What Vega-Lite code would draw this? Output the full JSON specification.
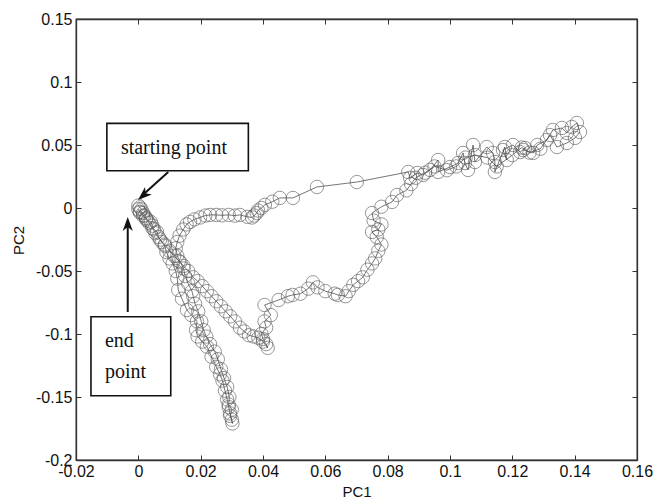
{
  "$schema": "https://vega.github.io/schema/vega-lite/v6.json",
  "width": 561,
  "height": 441,
  "autosize": "none",
  "padding": {"left": 76, "top": 19, "right": 18, "bottom": 42},
  "background": "white",
  "config": {
    "view": {"stroke": "#333", "strokeWidth": 1.3},
    "axis": {
      "grid": false, "domainColor": "#333", "domainWidth": 1.3,
      "tickColor": "#333", "tickSize": -5, "tickWidth": 1,
      "labelFont": "Liberation Sans", "labelFontSize": 16, "labelColor": "#111",
      "titleFont": "Liberation Sans", "titleFontSize": 15, "titleFontWeight": "normal", "titleColor": "#111",
      "labelFlush": false, "labelOverlap": false
    }
  },
  "datasets": {
    "path": [
      {"i":1,"pc1":0.0000,"pc2":0.0020},{"i":2,"pc1":0.0005,"pc2":0.0005},{"i":3,"pc1":0.0010,"pc2":-0.0010},{"i":4,"pc1":0.0005,"pc2":-0.0030},
      {"i":5,"pc1":0.0015,"pc2":-0.0040},{"i":6,"pc1":0.0020,"pc2":-0.0060},{"i":7,"pc1":0.0025,"pc2":-0.0080},{"i":8,"pc1":0.0030,"pc2":-0.0100},
      {"i":9,"pc1":0.0040,"pc2":-0.0110},{"i":10,"pc1":0.0045,"pc2":-0.0140},{"i":11,"pc1":0.0050,"pc2":-0.0170},{"i":12,"pc1":0.0060,"pc2":-0.0190},
      {"i":13,"pc1":0.0065,"pc2":-0.0230},{"i":14,"pc1":0.0075,"pc2":-0.0270},{"i":15,"pc1":0.0085,"pc2":-0.0300},{"i":16,"pc1":0.0090,"pc2":-0.0350},
      {"i":17,"pc1":0.0100,"pc2":-0.0400},{"i":18,"pc1":0.0110,"pc2":-0.0440},{"i":19,"pc1":0.0120,"pc2":-0.0500},{"i":20,"pc1":0.0125,"pc2":-0.0560},
      {"i":21,"pc1":0.0128,"pc2":-0.0650},{"i":22,"pc1":0.0140,"pc2":-0.0720},{"i":23,"pc1":0.0156,"pc2":-0.0810},{"i":24,"pc1":0.0170,"pc2":-0.0850},
      {"i":25,"pc1":0.0188,"pc2":-0.0900},{"i":26,"pc1":0.0185,"pc2":-0.0970},{"i":27,"pc1":0.0190,"pc2":-0.1020},{"i":28,"pc1":0.0205,"pc2":-0.1060},
      {"i":29,"pc1":0.0220,"pc2":-0.1100},{"i":30,"pc1":0.0235,"pc2":-0.1180},{"i":31,"pc1":0.0250,"pc2":-0.1260},{"i":32,"pc1":0.0262,"pc2":-0.1320},
      {"i":33,"pc1":0.0270,"pc2":-0.1370},{"i":34,"pc1":0.0278,"pc2":-0.1450},{"i":35,"pc1":0.0285,"pc2":-0.1520},{"i":36,"pc1":0.0290,"pc2":-0.1580},
      {"i":37,"pc1":0.0294,"pc2":-0.1630},{"i":38,"pc1":0.0300,"pc2":-0.1680},{"i":39,"pc1":0.0302,"pc2":-0.1710},{"i":40,"pc1":0.0295,"pc2":-0.1650},
      {"i":41,"pc1":0.0300,"pc2":-0.1600},{"i":42,"pc1":0.0290,"pc2":-0.1560},{"i":43,"pc1":0.0292,"pc2":-0.1500},{"i":44,"pc1":0.0285,"pc2":-0.1420},
      {"i":45,"pc1":0.0275,"pc2":-0.1350},{"i":46,"pc1":0.0265,"pc2":-0.1280},{"i":47,"pc1":0.0255,"pc2":-0.1200},{"i":48,"pc1":0.0245,"pc2":-0.1140},
      {"i":49,"pc1":0.0230,"pc2":-0.1080},{"i":50,"pc1":0.0218,"pc2":-0.1020},{"i":51,"pc1":0.0210,"pc2":-0.0970},{"i":52,"pc1":0.0202,"pc2":-0.0900},
      {"i":53,"pc1":0.0192,"pc2":-0.0820},{"i":54,"pc1":0.0182,"pc2":-0.0760},{"i":55,"pc1":0.0176,"pc2":-0.0700},{"i":56,"pc1":0.0172,"pc2":-0.0660},
      {"i":57,"pc1":0.0160,"pc2":-0.0600},{"i":58,"pc1":0.0150,"pc2":-0.0540},{"i":59,"pc1":0.0145,"pc2":-0.0480},{"i":60,"pc1":0.0135,"pc2":-0.0430},
      {"i":61,"pc1":0.0125,"pc2":-0.0380},{"i":62,"pc1":0.0120,"pc2":-0.0320},{"i":63,"pc1":0.0125,"pc2":-0.0270},{"i":64,"pc1":0.0132,"pc2":-0.0220},
      {"i":65,"pc1":0.0144,"pc2":-0.0170},{"i":66,"pc1":0.0155,"pc2":-0.0130},{"i":67,"pc1":0.0166,"pc2":-0.0110},{"i":68,"pc1":0.0180,"pc2":-0.0090},
      {"i":69,"pc1":0.0198,"pc2":-0.0075},{"i":70,"pc1":0.0215,"pc2":-0.0060},{"i":71,"pc1":0.0230,"pc2":-0.0055},{"i":72,"pc1":0.0250,"pc2":-0.0055},
      {"i":73,"pc1":0.0268,"pc2":-0.0058},{"i":74,"pc1":0.0290,"pc2":-0.0055},{"i":75,"pc1":0.0310,"pc2":-0.0060},{"i":76,"pc1":0.0326,"pc2":-0.0055},
      {"i":77,"pc1":0.0350,"pc2":-0.0070},{"i":78,"pc1":0.0365,"pc2":-0.0075},{"i":79,"pc1":0.0372,"pc2":-0.0060},{"i":80,"pc1":0.0380,"pc2":-0.0040},
      {"i":81,"pc1":0.0384,"pc2":-0.0020},{"i":82,"pc1":0.0395,"pc2":0.0000},{"i":83,"pc1":0.0406,"pc2":0.0025},{"i":84,"pc1":0.0430,"pc2":0.0050},
      {"i":85,"pc1":0.0454,"pc2":0.0080},{"i":86,"pc1":0.0496,"pc2":0.0080},{"i":87,"pc1":0.0573,"pc2":0.0167},{"i":88,"pc1":0.0701,"pc2":0.0206},
      {"i":89,"pc1":0.0866,"pc2":0.0286},{"i":90,"pc1":0.0872,"pc2":0.0240},{"i":91,"pc1":0.0895,"pc2":0.0278},{"i":92,"pc1":0.0914,"pc2":0.0262},
      {"i":93,"pc1":0.0936,"pc2":0.0302},{"i":94,"pc1":0.0962,"pc2":0.0381},{"i":95,"pc1":0.0962,"pc2":0.0286},{"i":96,"pc1":0.1000,"pc2":0.0325},
      {"i":97,"pc1":0.1026,"pc2":0.0357},{"i":98,"pc1":0.1042,"pc2":0.0437},{"i":99,"pc1":0.1048,"pc2":0.0357},{"i":100,"pc1":0.1058,"pc2":0.0302},
      {"i":101,"pc1":0.1074,"pc2":0.0500},{"i":102,"pc1":0.1080,"pc2":0.0365},{"i":103,"pc1":0.1118,"pc2":0.0484},{"i":104,"pc1":0.1138,"pc2":0.0437},
      {"i":105,"pc1":0.1144,"pc2":0.0365},{"i":106,"pc1":0.1144,"pc2":0.0286},{"i":107,"pc1":0.1176,"pc2":0.0484},{"i":108,"pc1":0.1182,"pc2":0.0381},
      {"i":109,"pc1":0.1170,"pc2":0.0460},{"i":110,"pc1":0.1202,"pc2":0.0500},{"i":111,"pc1":0.1225,"pc2":0.0444},{"i":112,"pc1":0.1241,"pc2":0.0476},
      {"i":113,"pc1":0.1235,"pc2":0.0460},{"i":114,"pc1":0.1267,"pc2":0.0437},{"i":115,"pc1":0.1280,"pc2":0.0500},{"i":116,"pc1":0.1311,"pc2":0.0540},
      {"i":117,"pc1":0.1330,"pc2":0.0619},{"i":118,"pc1":0.1359,"pc2":0.0635},{"i":119,"pc1":0.1375,"pc2":0.0595},{"i":120,"pc1":0.1391,"pc2":0.0643},
      {"i":121,"pc1":0.1407,"pc2":0.0675},{"i":122,"pc1":0.1417,"pc2":0.0603},{"i":123,"pc1":0.1401,"pc2":0.0556},{"i":124,"pc1":0.1375,"pc2":0.0516},
      {"i":125,"pc1":0.1343,"pc2":0.0484},{"i":126,"pc1":0.1321,"pc2":0.0579},{"i":127,"pc1":0.1290,"pc2":0.0470},{"i":128,"pc1":0.1255,"pc2":0.0440},
      {"i":129,"pc1":0.1230,"pc2":0.0480},{"i":130,"pc1":0.1200,"pc2":0.0420},{"i":131,"pc1":0.1150,"pc2":0.0330},{"i":132,"pc1":0.1120,"pc2":0.0400},
      {"i":133,"pc1":0.1080,"pc2":0.0420},{"i":134,"pc1":0.1050,"pc2":0.0400},{"i":135,"pc1":0.1020,"pc2":0.0330},{"i":136,"pc1":0.0990,"pc2":0.0300},
      {"i":137,"pc1":0.0950,"pc2":0.0330},{"i":138,"pc1":0.0920,"pc2":0.0280},{"i":139,"pc1":0.0890,"pc2":0.0240},{"i":140,"pc1":0.0875,"pc2":0.0190},
      {"i":141,"pc1":0.0860,"pc2":0.0140},{"i":142,"pc1":0.0830,"pc2":0.0103},{"i":143,"pc1":0.0814,"pc2":0.0048},{"i":144,"pc1":0.0780,"pc2":0.0010},
      {"i":145,"pc1":0.0750,"pc2":-0.0040},{"i":146,"pc1":0.0755,"pc2":-0.0100},{"i":147,"pc1":0.0780,"pc2":-0.0130},{"i":148,"pc1":0.0770,"pc2":-0.0170},
      {"i":149,"pc1":0.0750,"pc2":-0.0190},{"i":150,"pc1":0.0765,"pc2":-0.0230},{"i":151,"pc1":0.0780,"pc2":-0.0290},{"i":152,"pc1":0.0770,"pc2":-0.0340},
      {"i":153,"pc1":0.0760,"pc2":-0.0400},{"i":154,"pc1":0.0750,"pc2":-0.0440},{"i":155,"pc1":0.0735,"pc2":-0.0490},{"i":156,"pc1":0.0720,"pc2":-0.0550},
      {"i":157,"pc1":0.0705,"pc2":-0.0580},{"i":158,"pc1":0.0690,"pc2":-0.0610},{"i":159,"pc1":0.0675,"pc2":-0.0660},{"i":160,"pc1":0.0665,"pc2":-0.0700},
      {"i":161,"pc1":0.0640,"pc2":-0.0690},{"i":162,"pc1":0.0630,"pc2":-0.0680},{"i":163,"pc1":0.0600,"pc2":-0.0660},{"i":164,"pc1":0.0575,"pc2":-0.0630},
      {"i":165,"pc1":0.0560,"pc2":-0.0590},{"i":166,"pc1":0.0545,"pc2":-0.0640},{"i":167,"pc1":0.0520,"pc2":-0.0680},{"i":168,"pc1":0.0495,"pc2":-0.0690},
      {"i":169,"pc1":0.0480,"pc2":-0.0700},{"i":170,"pc1":0.0450,"pc2":-0.0730},{"i":171,"pc1":0.0405,"pc2":-0.0770},{"i":172,"pc1":0.0425,"pc2":-0.0850},
      {"i":173,"pc1":0.0405,"pc2":-0.0900},{"i":174,"pc1":0.0410,"pc2":-0.0950},{"i":175,"pc1":0.0395,"pc2":-0.1000},{"i":176,"pc1":0.0400,"pc2":-0.1040},
      {"i":177,"pc1":0.0410,"pc2":-0.1080},{"i":178,"pc1":0.0415,"pc2":-0.1110},{"i":179,"pc1":0.0400,"pc2":-0.1060},{"i":180,"pc1":0.0385,"pc2":-0.1030},
      {"i":181,"pc1":0.0370,"pc2":-0.1020},{"i":182,"pc1":0.0355,"pc2":-0.1010},{"i":183,"pc1":0.0340,"pc2":-0.0980},{"i":184,"pc1":0.0326,"pc2":-0.0950},
      {"i":185,"pc1":0.0310,"pc2":-0.0900},{"i":186,"pc1":0.0295,"pc2":-0.0860},{"i":187,"pc1":0.0280,"pc2":-0.0820},{"i":188,"pc1":0.0265,"pc2":-0.0780},
      {"i":189,"pc1":0.0250,"pc2":-0.0740},{"i":190,"pc1":0.0235,"pc2":-0.0700},{"i":191,"pc1":0.0220,"pc2":-0.0660},{"i":192,"pc1":0.0205,"pc2":-0.0620},
      {"i":193,"pc1":0.0190,"pc2":-0.0580},{"i":194,"pc1":0.0176,"pc2":-0.0550},{"i":195,"pc1":0.0160,"pc2":-0.0500},{"i":196,"pc1":0.0145,"pc2":-0.0460},
      {"i":197,"pc1":0.0130,"pc2":-0.0420},{"i":198,"pc1":0.0115,"pc2":-0.0380},{"i":199,"pc1":0.0100,"pc2":-0.0340},{"i":200,"pc1":0.0085,"pc2":-0.0290},
      {"i":201,"pc1":0.0070,"pc2":-0.0250},{"i":202,"pc1":0.0055,"pc2":-0.0200},{"i":203,"pc1":0.0045,"pc2":-0.0160},{"i":204,"pc1":0.0035,"pc2":-0.0120},
      {"i":205,"pc1":0.0025,"pc2":-0.0090},{"i":206,"pc1":0.0015,"pc2":-0.0060},{"i":207,"pc1":0.0005,"pc2":-0.0035},{"i":208,"pc1":0.0000,"pc2":-0.0010}
    ],
    "boxes": [
      {"x1": -0.0101, "x2": 0.0353, "y1": 0.0296, "y2": 0.0672},
      {"x1": -0.0152, "x2": 0.0104, "y1": -0.1490, "y2": -0.0863}
    ],
    "shafts": [
      {"x1": 0.0096, "y1": 0.0286, "x2": 0.0015, "y2": 0.0106},
      {"x1": -0.0034, "y1": -0.0825, "x2": -0.0034, "y2": -0.0135}
    ],
    "heads": [
      {"kind": "start", "x": -0.0001, "y": 0.0063},
      {"kind": "end", "x": -0.0034, "y": -0.0071}
    ],
    "labels": [
      {"text": "starting point", "x": -0.0056, "y": 0.0429},
      {"text": "end", "x": -0.0107, "y": -0.1106},
      {"text": "point", "x": -0.0107, "y": -0.1352}
    ]
  },
  "layer": [
    {
      "data": {"name": "path"},
      "mark": {"type": "line", "color": "#3a3a3a", "strokeWidth": 0.7},
      "encoding": {
        "x": {"field": "pc1", "type": "quantitative",
          "scale": {"domain": [-0.02, 0.16], "nice": false, "zero": false},
          "axis": {"orient": "bottom", "title": "PC1", "values": [-0.02, 0, 0.02, 0.04, 0.06, 0.08, 0.1, 0.12, 0.14, 0.16],
            "labelExpr": "'' + datum.value", "labelPadding": 8, "titleY": 31, "titleBaseline": "middle"}},
        "y": {"field": "pc2", "type": "quantitative",
          "scale": {"domain": [-0.2, 0.15], "nice": false, "zero": false},
          "axis": {"orient": "left", "title": "PC2", "values": [-0.2, -0.15, -0.1, -0.05, 0, 0.05, 0.1, 0.15],
            "labelExpr": "'' + datum.value", "labelPadding": 9, "titleX": -58, "titleY": 221, "titleBaseline": "middle"}},
        "order": {"field": "i", "type": "quantitative"}
      }
    },
    {
      "data": {"name": "path"},
      "mark": {"type": "point", "shape": "circle", "filled": false, "size": 180, "stroke": "#5a5a5a", "strokeWidth": 0.9},
      "encoding": {
        "x": {"field": "pc1", "type": "quantitative",
          "scale": {"domain": [-0.02, 0.16], "nice": false, "zero": false},
          "axis": {"orient": "top", "title": null, "labels": false, "values": [-0.02, 0, 0.02, 0.04, 0.06, 0.08, 0.1, 0.12, 0.14, 0.16]}},
        "y": {"field": "pc2", "type": "quantitative",
          "scale": {"domain": [-0.2, 0.15], "nice": false, "zero": false},
          "axis": {"orient": "right", "title": null, "labels": false, "values": [-0.2, -0.15, -0.1, -0.05, 0, 0.05, 0.1, 0.15]}}
      }
    },
    {
      "data": {"name": "shafts"},
      "mark": {"type": "rule", "color": "#111", "strokeWidth": 2},
      "encoding": {
        "x": {"field": "x1", "type": "quantitative", "axis": null},
        "y": {"field": "y1", "type": "quantitative", "axis": null},
        "x2": {"field": "x2"},
        "y2": {"field": "y2"}
      }
    },
    {
      "data": {"name": "heads"},
      "transform": [{"filter": "datum.kind == 'start'"}],
      "mark": {"type": "point", "shape": "M0,0L-0.36,-1L0,-0.72L0.36,-1Z", "filled": true, "color": "#111", "opacity": 1, "size": 784, "angle": 48, "strokeWidth": 0},
      "encoding": {
        "x": {"field": "x", "type": "quantitative", "axis": null},
        "y": {"field": "y", "type": "quantitative", "axis": null}
      }
    },
    {
      "data": {"name": "heads"},
      "transform": [{"filter": "datum.kind == 'end'"}],
      "mark": {"type": "point", "shape": "M0,0L-0.36,-1L0,-0.72L0.36,-1Z", "filled": true, "color": "#111", "opacity": 1, "size": 784, "angle": 180, "strokeWidth": 0},
      "encoding": {
        "x": {"field": "x", "type": "quantitative", "axis": null},
        "y": {"field": "y", "type": "quantitative", "axis": null}
      }
    },
    {
      "data": {"name": "boxes"},
      "mark": {"type": "rect", "fill": "white", "stroke": "#111", "strokeWidth": 1.6},
      "encoding": {
        "x": {"field": "x1", "type": "quantitative", "axis": null},
        "x2": {"field": "x2"},
        "y": {"field": "y1", "type": "quantitative", "axis": null},
        "y2": {"field": "y2"}
      }
    },
    {
      "data": {"name": "labels"},
      "mark": {"type": "text", "font": "Liberation Serif", "fontSize": 20, "align": "left", "baseline": "alphabetic", "color": "#111"},
      "encoding": {
        "x": {"field": "x", "type": "quantitative", "axis": null},
        "y": {"field": "y", "type": "quantitative", "axis": null},
        "text": {"field": "text"}
      }
    }
  ],
  "resolve": {"axis": {"x": "independent", "y": "independent"}}
}
